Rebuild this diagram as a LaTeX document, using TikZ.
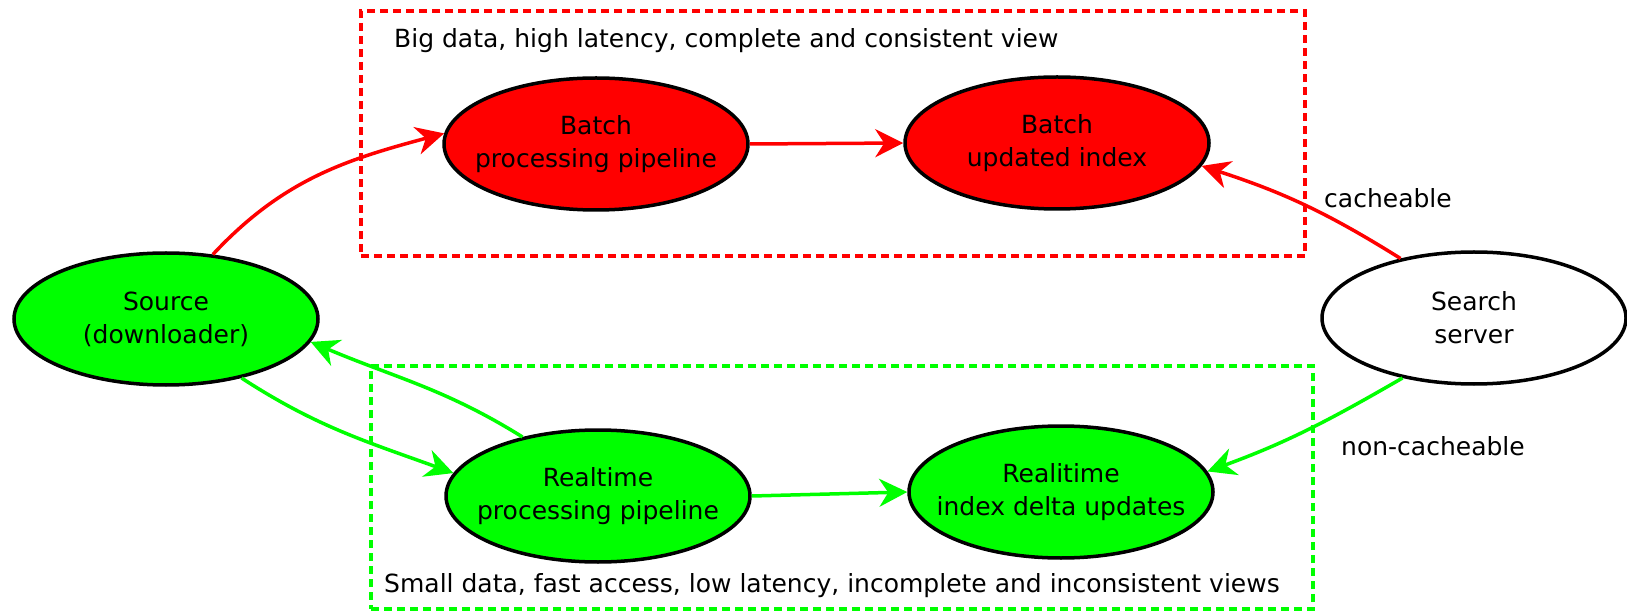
\documentclass[tikz,border=0pt]{standalone}
\usepackage{fontspec}
\setmainfont{DejaVu Sans}
\usetikzlibrary{shapes.geometric,arrows.meta}
\definecolor{batchred}{RGB}{255,0,0}
\definecolor{livegreen}{RGB}{0,255,0}
\begin{document}
\begin{tikzpicture}[x=1pt,y=1pt,
  stage/.style={ellipse, draw=black, line width=3.5pt,
    minimum width=304pt, minimum height=132pt,
    inner xsep=-30pt, inner ysep=-20pt, align=center,
    font=\fontsize{25}{33}\selectfont},
  flow/.style={line width=3.5pt, -{Stealth[length=28pt,width=28pt,inset=9pt]}},
  zone/.style={dash pattern=on 8pt off 5pt, line width=3.5pt, inner sep=0pt},
  caption/.style={font=\fontsize{25}{33}\selectfont, inner sep=0pt, anchor=west}]
\useasboundingbox (0,0) rectangle (1627,611);

% dashed zones
\node[zone, draw=batchred, minimum width=944pt, minimum height=245pt] (batchzone) at (833,477.5) {};
\node[zone, draw=livegreen, minimum width=942pt, minimum height=243pt] (livezone) at (842,123.5) {};

% zone and edge captions
\node[caption] (bigtxt) at (394,570) {Big data, high latency, complete and consistent view};
\node[caption] (smalltxt) at (384,25) {Small data, fast access, low latency, incomplete and inconsistent views};
\node[caption] (cache) at (1324,413) {cacheable};
\node[caption] (nocache) at (1341,165) {non-cacheable};

% stages
\node[stage, fill=livegreen] (src) at (166,292) {Source\\(downloader)};
\node[stage, fill=batchred] (bp) at (596,467) {Batch\\processing pipeline};
\node[stage, fill=batchred] (bi) at (1057,468) {Batch\\updated index};
\node[stage, fill=white] (ss) at (1474,293) {Search\\server};
\node[stage, fill=livegreen] (rp) at (598,115) {Realtime\\processing pipeline};
\node[stage, fill=livegreen] (ri) at (1061,119) {Realitime\\index delta updates};

% batch path
\draw[flow, batchred] (src.54) to[out=47, in=195] (bp.176);
\draw[flow, batchred] (bp.east) -- (bi.west);
\draw[flow, batchred] (ss.141) to[out=148, in=-18] (bi.-9);

% realtime path
\draw[flow, livegreen] (src.-38) to[out=-33, in=160] (rp.171);
\draw[flow, livegreen] (rp.142) to[out=148, in=-23] (src.-9);
\draw[flow, livegreen] (rp.east) -- (ri.west);
\draw[flow, livegreen] (ss.220) to[out=210, in=20] (ri.8);
\end{tikzpicture}
\end{document}
